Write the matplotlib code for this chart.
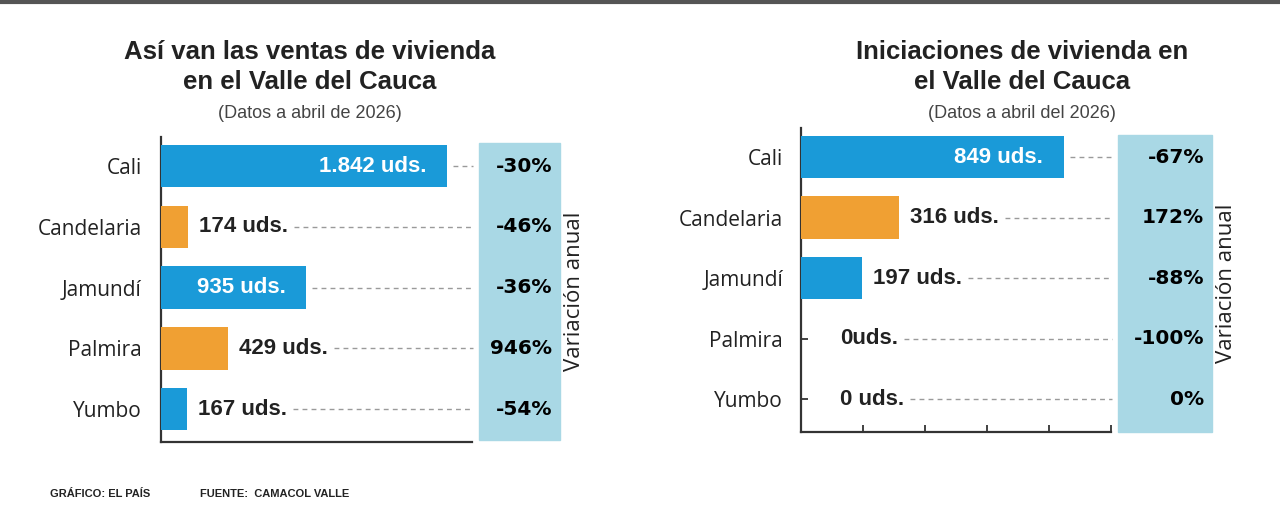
import matplotlib
matplotlib.use("Agg")
import matplotlib.pyplot as plt
from matplotlib.patches import Rectangle
from matplotlib.lines import Line2D
from matplotlib.transforms import blended_transform_factory

# datos
municipios = ["Cali", "Candelaria", "Jamundí", "Palmira", "Yumbo"]
ventas = [1842, 174, 935, 429, 167]
ventas_txt = ["1.842 uds.", "174 uds.", "935 uds.", "429 uds.", "167 uds."]
ventas_var = ["-30%", "-46%", "-36%", "946%", "-54%"]
inicios = [849, 316, 197, 0, 0]
inicios_txt = ["849 uds.", "316 uds.", "197 uds.", "0uds.", "0 uds."]
inicios_var = ["-67%", "172%", "-88%", "-100%", "0%"]

azul = "#1a9ad8"
naranja = "#f0a033"
colores = [azul, naranja, azul, naranja, azul]
caja = "#a9d8e5"
oscuro = "#222222"

W, H = 1280, 509
plt.rcParams["font.family"] = ["Liberation Sans", "DejaVu Sans"]

fig = plt.figure(figsize=(W / 100, H / 100), dpi=100)

def fx(px):
    return px / W

def fy(py):
    return 1 - py / H

# barra gris arriba
fig.add_artist(Line2D([0, 1], [fy(1.5), fy(1.5)], color="#555555", lw=3,
                      transform=fig.transFigure))

def panel(rect, vals, txts, pcts, xmax, box, titulo, sub, tcx, yticks):
    ax = fig.add_axes(rect)
    ys = range(len(vals))
    ax.barh(ys, vals, height=0.7, color=colores, zorder=3)
    ax.set_xlim(0, xmax)
    ax.set_ylim(4.54, -0.48)
    for s in ["top", "right"]:
        ax.spines[s].set_visible(False)
    for s in ["left", "bottom"]:
        ax.spines[s].set_color("#333333")
        ax.spines[s].set_linewidth(1.6)
    ax.set_yticks(list(ys))
    ax.set_yticklabels(municipios, fontsize=15, color=oscuro,
                       family=["Open Sans", "DejaVu Sans"])
    if yticks:
        ax.set_xticks(range(0, xmax + 1, xmax // 5))
        ax.tick_params(axis="both", direction="in", length=5, width=1.3,
                       color="#333333", pad=13)
        ax.tick_params(axis="x", labelbottom=False)
    else:
        ax.set_xticks([])
        ax.tick_params(axis="y", length=0, pad=14)

    # caja de variacion
    bx0, by0, bx1, by1 = box
    fig.add_artist(Rectangle((fx(bx0), fy(by1)), fx(bx1 - bx0), (by1 - by0) / H,
                             transform=fig.transFigure, color=caja, zorder=0))
    tr = blended_transform_factory(fig.transFigure, ax.transData)
    labels = []
    for i, (v, t, p) in enumerate(zip(vals, txts, pcts)):
        if v > 0.4 * xmax:
            lab = ax.annotate(t, (v, i), xytext=(-15, 0), textcoords="offset points",
                              ha="right", va="center", color="white",
                              fontsize=16, fontweight="bold", zorder=4)
        else:
            off = 8 if v > 0 else 28
            lab = ax.annotate(t, (v, i), xytext=(off, 0), textcoords="offset points",
                              ha="left", va="center", color=oscuro,
                              fontsize=16, fontweight="bold", zorder=4)
        labels.append((lab, v > 0.4 * xmax))
        fig.text(fx(bx1 - 8), i, p, transform=tr, ha="right", va="center",
                 fontsize=14.5, fontweight="bold", color="black",
                 family=["DejaVu Sans"])
    fig.text(fx(bx1 + 15), fy((by0 + by1) / 2), "Variación anual", rotation=90,
             ha="center", va="center", fontsize=16, color=oscuro,
             family=["Open Sans", "DejaVu Sans"])

    # titulos
    fig.text(fx(tcx), fy(67), titulo, ha="center", va="center", fontsize=18.5,
             fontweight="bold", color=oscuro, linespacing=1.3)
    fig.text(fx(tcx), fy(113), sub, ha="center", va="center", fontsize=13,
             color="#444444")
    return ax, labels, tr, bx0

ax1, lab1, tr1, b1 = panel([fx(161), fy(442), fx(311), 305 / H], ventas, ventas_txt,
                           ventas_var, 2000, (479, 143, 560, 440),
                           "Así van las ventas de vivienda\nen el Valle del Cauca",
                           "(Datos a abril de 2026)", 310, False)
ax2, lab2, tr2, b2 = panel([fx(801), fy(432), fx(310), 304 / H], inicios, inicios_txt,
                           inicios_var, 1000, (1118, 135, 1212, 432),
                           "Iniciaciones de vivienda en\nel Valle del Cauca",
                           "(Datos a abril del 2026)", 1022, True)

# lineas punteadas entre etiqueta y caja
fig.canvas.draw()
r = fig.canvas.get_renderer()
for ax, labs, tr, bx0 in [(ax1, lab1, tr1, b1), (ax2, lab2, tr2, b2)]:
    for i, (lab, dentro) in enumerate(labs):
        if dentro:
            x0 = ax.transData.transform((lab.xy[0], 0))[0]
        else:
            x0 = lab.get_window_extent(r).x1
        fig.add_artist(Line2D([(x0 + 6) / W, fx(bx0 - 6)], [i, i], transform=tr,
                              color="#9a9a9a", lw=1, ls=(0, (3.5, 3))))

# pie
fig.text(fx(50), fy(494), "GRÁFICO: EL PAÍS", fontsize=8, fontweight="bold",
         color=oscuro, va="center")
fig.text(fx(200), fy(494), "FUENTE:  CAMACOL VALLE", fontsize=8,
         fontweight="bold", color=oscuro, va="center")

fig.savefig("out.png", dpi=100)
